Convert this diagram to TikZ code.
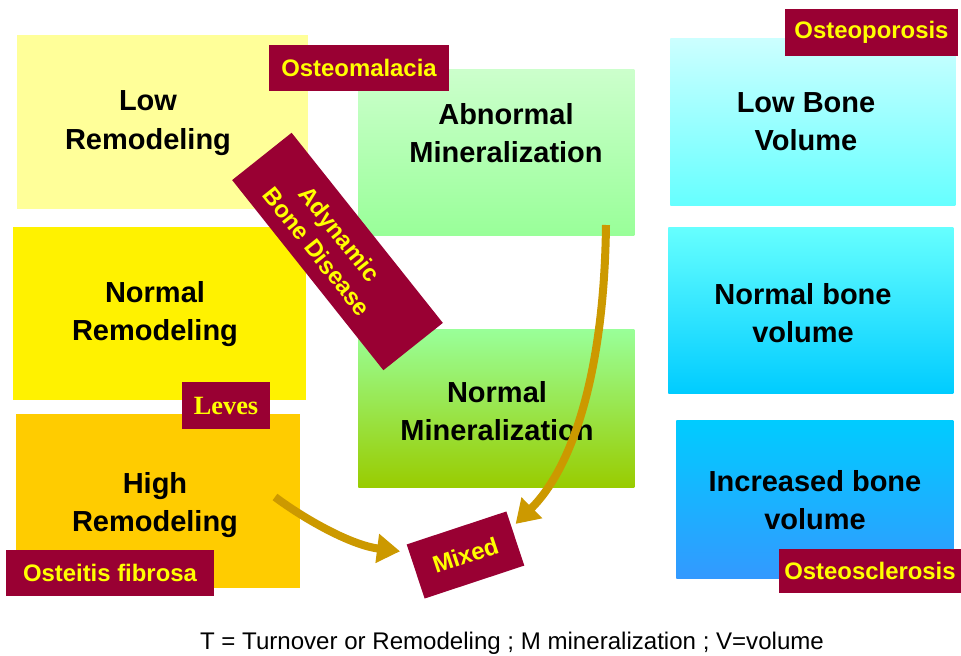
\documentclass[tikz,border=0pt]{standalone}
\usepackage{fontspec}
\setmainfont{Liberation Sans}
\newfontfamily\serifbold{Liberation Serif}
\usepackage{xcolor}
\definecolor{TagRed}    {RGB}{153,  0,  51}
\definecolor{TagYellow} {RGB}{255, 255,  0}
\definecolor{PaleYellow}{RGB}{255, 255, 153}
\definecolor{HighOrange}{RGB}{255, 204,  0}
\definecolor{MintTop}   {RGB}{204, 255, 204}
\definecolor{MintGreen} {RGB}{153, 255, 153}
\definecolor{LeafGreen} {RGB}{153, 204,  0}
\definecolor{IceCyan}   {RGB}{204, 255, 255}
\definecolor{LightCyan} {RGB}{102, 255, 255}
\definecolor{SkyCyan}   {RGB}{0,   204, 255}
\definecolor{DeepSky}   {RGB}{51,  153, 255}
\definecolor{ArrowGold} {RGB}{204, 153,  0}
\usetikzlibrary{
  arrows.meta,
  calc
}

\begin{document}
\begin{tikzpicture}[
  x=0.02cm, y=-0.02cm,
  zone/.style={
    anchor=north west, inner sep=0pt
  },
  ztext/.style={
    align=center,
    font=\fontsize{16.5}{21.8}\selectfont\bfseries
  },
  tagtext/.style={
    text=TagYellow, inner sep=0pt, align=center,
    font=\fontsize{13.6}{16.5}\selectfont\bfseries
  },
  tag/.style={tagtext, fill=TagRed},
  flow/.style={
    -{Triangle[length=0.46cm, width=0.56cm]},
    line width=0.16cm, ArrowGold}
]
\fill[white] (0,0) rectangle (961,656);
\useasboundingbox (0,0) rectangle (961,656);

% remodeling column
\node[zone, fill=PaleYellow, minimum width=5.82cm,
  minimum height=3.48cm] (lowrem) at (17,35) {};
\node[zone, fill=yellow, minimum width=5.86cm,
  minimum height=3.46cm] (normrem) at (13,227) {};
\node[zone, fill=HighOrange, minimum width=5.68cm,
  minimum height=3.48cm] (highrem) at (16,414) {};

% mineralization column
\node[zone, top color=MintTop, bottom color=MintGreen,
  minimum width=5.52cm, minimum height=3.32cm]
  (abmin) at (358,69) {};
\node[zone, top color=MintGreen, bottom color=LeafGreen,
  minimum width=5.52cm, minimum height=3.16cm]
  (normmin) at (358,329) {};

% volume column
\node[zone, top color=IceCyan, bottom color=LightCyan,
  minimum width=5.70cm, minimum height=3.34cm]
  (lowvol) at (670,38) {};
\node[zone, top color=LightCyan, bottom color=SkyCyan,
  minimum width=5.70cm, minimum height=3.32cm]
  (normvol) at (668,227) {};
\node[zone, top color=SkyCyan, bottom color=DeepSky,
  minimum width=5.54cm, minimum height=3.16cm]
  (incvol) at (676,420) {};

\node[ztext] (lowremtxt)  at (148,123) {Low\\Remodeling};
\node[ztext] (normremtxt) at (155,314) {Normal\\Remodeling};
\node[ztext] (highremtxt) at (155,505) {High\\Remodeling};
\node[ztext] (abmintxt)   at (506,133) {Abnormal\\Mineralization};
\node[ztext] (normmintxt) at (497,411) {Normal\\Mineralization};
\node[ztext] (lowvoltxt)  at (806,122) {Low Bone\\Volume};
\node[ztext] (normvoltxt) at (803,313) {Normal bone\\volume};
\node[ztext] (incvoltxt)  at (815,500) {Increased bone\\volume};

% disease tags
\node[tag, minimum width=3.6cm, minimum height=0.92cm]
  (osteomal) at (359,68) {Osteomalacia};
\node[tag, minimum width=3.46cm, minimum height=0.94cm]
  (osteopor) at (871.5,32.5) {Osteoporosis};
\node[tag, minimum width=4.16cm, minimum height=0.92cm]
  (osteitis) at (110,573) {Osteitis fibrosa};
\node[tag, minimum width=3.64cm, minimum height=0.88cm]
  (osteoscl) at (870,571) {Osteosclerosis};
\node[tag, minimum width=1.76cm, minimum height=0.94cm,
  font=\serifbold\fontsize{15}{18}\selectfont\bfseries]
  (leves) at (226,405.5) {Leves};
\node[tag, rotate=-51.5, minimum width=4.86cm,
  minimum height=1.52cm]
  (adyn) at (337.5,251.5) {};
\node[tagtext, rotate=-51.5] (adyntxt)
  at ($(adyn.center)+(-9,-9)$) {Adynamic\\Bone Disease};
\node[tag, rotate=18.3, minimum width=2.1cm,
  minimum height=1.14cm]
  (mixed) at (465.5,555) {Mixed};

\coordinate (highout) at (275,497);
\coordinate (abmout)  at (606,225);

\draw[flow, shorten >=0.18cm] (highout)
  .. controls (303,518) and (350,545) ..
  ($(mixed.north west)!0.15!(mixed.south west)$);
\draw[flow, shorten >=0.1cm] (abmout)
  .. controls (604,380) and (570,470) ..
  ($(mixed.north east)!0.6!(mixed.east)$);

\node[font=\fontsize{13.7}{16}\selectfont] (legend)
  at (512,643)
  {T = Turnover or Remodeling ; M mineralization ; V=volume};
\end{tikzpicture}
\end{document}
